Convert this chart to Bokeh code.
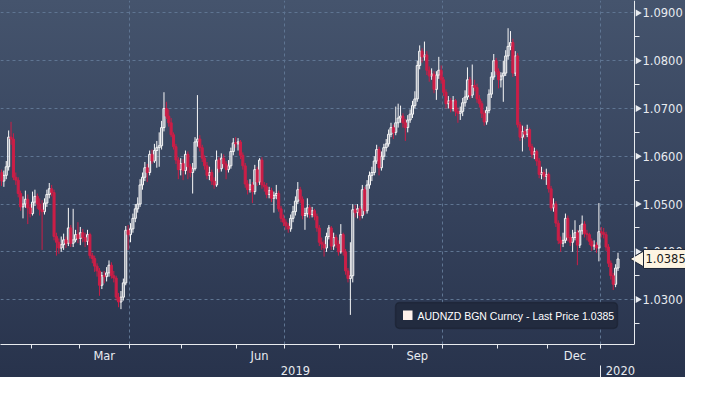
import math
from bokeh.plotting import figure
from bokeh.models import (Range1d, FixedTicker, PrintfTickFormatter, LinearAxis,
                          Label, BoxAnnotation, ColumnDataSource)
from bokeh.embed import file_html
from bokeh.resources import INLINE

# ---------------- data (daily AUDNZD candles) ----------------
open_first = 1.0566
close = [
    1.0548, 1.0560, 1.0578, 1.0640, 1.0636, 1.0556, 1.0550, 1.0522, 1.0494, 1.0500,
    1.0510, 1.0492, 1.0480, 1.0504, 1.0516, 1.0500, 1.0488, 1.0484, 1.0502, 1.0520,
    1.0532, 1.0524, 1.0432, 1.0420, 1.0408, 1.0415, 1.0425, 1.0418, 1.0450, 1.0418,
    1.0425, 1.0436, 1.0428, 1.0440, 1.0430, 1.0422, 1.0436, 1.0392, 1.0386, 1.0370,
    1.0360, 1.0330, 1.0350, 1.0348, 1.0356, 1.0372, 1.0350, 1.0345, 1.0305, 1.0295,
    1.0305, 1.0335, 1.0445, 1.0436, 1.0448, 1.0470, 1.0490, 1.0500, 1.0540, 1.0556,
    1.0576, 1.0566, 1.0604, 1.0590, 1.0612, 1.0618, 1.0622, 1.0660, 1.0700, 1.0684,
    1.0670, 1.0645, 1.0620, 1.0592, 1.0572, 1.0585, 1.0570, 1.0604, 1.0578, 1.0566,
    1.0574, 1.0630, 1.0636, 1.0618, 1.0596, 1.0580, 1.0560, 1.0566, 1.0548, 1.0540,
    1.0592, 1.0574, 1.0596, 1.0584, 1.0572, 1.0580, 1.0610, 1.0628, 1.0626, 1.0630,
    1.0602, 1.0580, 1.0542, 1.0530, 1.0540, 1.0526, 1.0572, 1.0546, 1.0592, 1.0540,
    1.0536, 1.0520, 1.0528, 1.0512, 1.0518, 1.0522, 1.0490, 1.0470, 1.0462, 1.0454,
    1.0448, 1.0470, 1.0484, 1.0506, 1.0530, 1.0510, 1.0476, 1.0480, 1.0492, 1.0478,
    1.0486, 1.0474, 1.0450, 1.0420, 1.0416, 1.0408, 1.0432, 1.0450, 1.0412, 1.0430,
    1.0416, 1.0400, 1.0436, 1.0400, 1.0360, 1.0344, 1.0350, 1.0488, 1.0482, 1.0490,
    1.0476, 1.0530, 1.0486, 1.0540, 1.0560, 1.0566, 1.0590, 1.0614, 1.0576, 1.0600,
    1.0618, 1.0626, 1.0646, 1.0660, 1.0650, 1.0670, 1.0680, 1.0684, 1.0670, 1.0660,
    1.0676, 1.0688, 1.0706, 1.0720, 1.0790, 1.0820, 1.0808, 1.0812, 1.0780, 1.0768,
    1.0772, 1.0740, 1.0770, 1.0780, 1.0760, 1.0734, 1.0710, 1.0716, 1.0700, 1.0716,
    1.0694, 1.0690, 1.0694, 1.0712, 1.0724, 1.0760, 1.0728, 1.0748, 1.0744, 1.0720,
    1.0710, 1.0690, 1.0672, 1.0696, 1.0730, 1.0766, 1.0800, 1.0778, 1.0760, 1.0768,
    1.0774, 1.0810, 1.0830, 1.0838, 1.0774, 1.0810, 1.0666, 1.0640, 1.0652, 1.0646,
    1.0656, 1.0620, 1.0604, 1.0610, 1.0590, 1.0562, 1.0566, 1.0558, 1.0562, 1.0532,
    1.0492, 1.0500, 1.0460, 1.0424, 1.0418, 1.0424, 1.0470, 1.0430, 1.0420, 1.0430,
    1.0440, 1.0414, 1.0444, 1.0458, 1.0438, 1.0436, 1.0422, 1.0412, 1.0414, 1.0408,
    1.0442, 1.0440, 1.0436, 1.0410, 1.0376, 1.0350, 1.0332, 1.0366, 1.0385,
]
high = [
    1.0572, 1.0570, 1.0590, 1.0654, 1.0672, 1.0648, 1.0566, 1.0556, 1.0528, 1.0516,
    1.0528, 1.0520, 1.0500, 1.0526, 1.0530, 1.0522, 1.0512, 1.0508, 1.0512, 1.0530,
    1.0544, 1.0540, 1.0530, 1.0440, 1.0428, 1.0432, 1.0438, 1.0432, 1.0492, 1.0456,
    1.0490, 1.0446, 1.0462, 1.0452, 1.0448, 1.0440, 1.0446, 1.0440, 1.0398, 1.0392,
    1.0376, 1.0366, 1.0358, 1.0360, 1.0368, 1.0382, 1.0378, 1.0360, 1.0350, 1.0314,
    1.0318, 1.0344, 1.0454, 1.0456, 1.0460, 1.0480, 1.0500, 1.0514, 1.0552, 1.0566,
    1.0588, 1.0584, 1.0612, 1.0614, 1.0626, 1.0632, 1.0650, 1.0674, 1.0734, 1.0714,
    1.0698, 1.0680, 1.0650, 1.0626, 1.0598, 1.0596, 1.0594, 1.0612, 1.0610, 1.0584,
    1.0586, 1.0640, 1.0728, 1.0644, 1.0624, 1.0602, 1.0588, 1.0578, 1.0572, 1.0556,
    1.0612, 1.0598, 1.0606, 1.0604, 1.0590, 1.0592, 1.0618, 1.0638, 1.0640, 1.0638,
    1.0634, 1.0608, 1.0586, 1.0550, 1.0552, 1.0546, 1.0582, 1.0578, 1.0596, 1.0598,
    1.0546, 1.0544, 1.0536, 1.0534, 1.0526, 1.0540, 1.0528, 1.0496, 1.0478, 1.0468,
    1.0460, 1.0478, 1.0496, 1.0516, 1.0546, 1.0536, 1.0516, 1.0492, 1.0512, 1.0498,
    1.0494, 1.0490, 1.0480, 1.0456, 1.0430, 1.0424, 1.0440, 1.0456, 1.0454, 1.0440,
    1.0436, 1.0424, 1.0458, 1.0440, 1.0406, 1.0366, 1.0420, 1.0500, 1.0498, 1.0500,
    1.0496, 1.0540, 1.0536, 1.0550, 1.0568, 1.0578, 1.0600, 1.0624, 1.0620, 1.0610,
    1.0626, 1.0636, 1.0656, 1.0670, 1.0666, 1.0704, 1.0710, 1.0706, 1.0690, 1.0678,
    1.0686, 1.0698, 1.0716, 1.0736, 1.0800, 1.0832, 1.0826, 1.0840, 1.0820, 1.0788,
    1.0784, 1.0778, 1.0778, 1.0808, 1.0790, 1.0766, 1.0740, 1.0726, 1.0722, 1.0726,
    1.0720, 1.0702, 1.0704, 1.0722, 1.0738, 1.0786, 1.0766, 1.0792, 1.0760, 1.0752,
    1.0728, 1.0716, 1.0696, 1.0704, 1.0740, 1.0776, 1.0814, 1.0806, 1.0784, 1.0776,
    1.0800, 1.0822, 1.0868, 1.0862, 1.0846, 1.0820, 1.0816, 1.0672, 1.0664, 1.0662,
    1.0666, 1.0660, 1.0626, 1.0618, 1.0614, 1.0596, 1.0578, 1.0572, 1.0574, 1.0566,
    1.0538, 1.0512, 1.0506, 1.0466, 1.0432, 1.0440, 1.0480, 1.0476, 1.0436, 1.0446,
    1.0466, 1.0446, 1.0456, 1.0476, 1.0464, 1.0446, 1.0440, 1.0428, 1.0424, 1.0420,
    1.0502, 1.0452, 1.0450, 1.0442, 1.0416, 1.0382, 1.0356, 1.0374, 1.0398,
]
low = [
    1.0538, 1.0536, 1.0552, 1.0570, 1.0624, 1.0550, 1.0540, 1.0514, 1.0486, 1.0470,
    1.0492, 1.0458, 1.0472, 1.0476, 1.0496, 1.0490, 1.0476, 1.0404, 1.0478, 1.0494,
    1.0512, 1.0516, 1.0424, 1.0392, 1.0396, 1.0400, 1.0404, 1.0408, 1.0412, 1.0410,
    1.0410, 1.0420, 1.0418, 1.0414, 1.0420, 1.0410, 1.0414, 1.0386, 1.0376, 1.0358,
    1.0348, 1.0308, 1.0322, 1.0334, 1.0338, 1.0348, 1.0344, 1.0336, 1.0298, 1.0284,
    1.0280, 1.0298, 1.0330, 1.0404, 1.0420, 1.0440, 1.0462, 1.0482, 1.0494, 1.0530,
    1.0548, 1.0546, 1.0560, 1.0584, 1.0586, 1.0576, 1.0578, 1.0614, 1.0652, 1.0678,
    1.0662, 1.0640, 1.0614, 1.0584, 1.0552, 1.0560, 1.0550, 1.0562, 1.0552, 1.0556,
    1.0522, 1.0570, 1.0620, 1.0610, 1.0588, 1.0572, 1.0552, 1.0550, 1.0540, 1.0532,
    1.0536, 1.0566, 1.0568, 1.0576, 1.0552, 1.0566, 1.0574, 1.0602, 1.0618, 1.0612,
    1.0594, 1.0572, 1.0534, 1.0520, 1.0524, 1.0502, 1.0520, 1.0538, 1.0540, 1.0532,
    1.0526, 1.0512, 1.0512, 1.0504, 1.0482, 1.0510, 1.0484, 1.0462, 1.0454, 1.0446,
    1.0440, 1.0442, 1.0462, 1.0476, 1.0500, 1.0502, 1.0468, 1.0446, 1.0472, 1.0470,
    1.0472, 1.0466, 1.0442, 1.0412, 1.0404, 1.0390, 1.0400, 1.0426, 1.0404, 1.0404,
    1.0408, 1.0392, 1.0396, 1.0392, 1.0352, 1.0336, 1.0268, 1.0336, 1.0472, 1.0470,
    1.0466, 1.0470, 1.0478, 1.0480, 1.0532, 1.0548, 1.0560, 1.0584, 1.0560, 1.0570,
    1.0592, 1.0610, 1.0620, 1.0640, 1.0636, 1.0644, 1.0660, 1.0670, 1.0660, 1.0632,
    1.0650, 1.0670, 1.0680, 1.0700, 1.0714, 1.0782, 1.0796, 1.0800, 1.0770, 1.0756,
    1.0760, 1.0732, 1.0718, 1.0762, 1.0752, 1.0726, 1.0700, 1.0700, 1.0692, 1.0694,
    1.0684, 1.0670, 1.0676, 1.0684, 1.0704, 1.0718, 1.0720, 1.0722, 1.0736, 1.0712,
    1.0702, 1.0680, 1.0664, 1.0666, 1.0690, 1.0722, 1.0760, 1.0770, 1.0742, 1.0744,
    1.0714, 1.0768, 1.0802, 1.0822, 1.0766, 1.0768, 1.0660, 1.0632, 1.0610, 1.0636,
    1.0640, 1.0612, 1.0596, 1.0594, 1.0580, 1.0554, 1.0552, 1.0550, 1.0540, 1.0524,
    1.0486, 1.0484, 1.0452, 1.0416, 1.0400, 1.0410, 1.0418, 1.0422, 1.0412, 1.0400,
    1.0424, 1.0372, 1.0408, 1.0436, 1.0430, 1.0424, 1.0414, 1.0402, 1.0404, 1.0398,
    1.0380, 1.0430, 1.0428, 1.0402, 1.0368, 1.0342, 1.0320, 1.0326, 1.0360,
]

# x axis: trading-day positions of month boundaries and labels
month_bounds = [12.5, 32.5, 53.5, 75.5, 98.5, 118.5, 141.5, 163.5, 184.5, 207.5, 228.5, 250.5]
quarter_bounds = [53.5, 118.5, 184.5, 250.5]
month_label_pos = [43, 108, 174, 240]
month_labels = ["Mar", "Jun", "Sep", "Dec"]
year_label_pos = [123, 259]
year_labels = ["2019", "2020"]
year_sep = [250.5]

price_ticks = [1.03, 1.04, 1.05, 1.06, 1.07, 1.08, 1.09]
price_minor = [1.025, 1.035, 1.045, 1.055, 1.065, 1.075, 1.085, 1.095]
last_price = 1.0385
series_name = "AUDNZD BGN Curncy - Last Price"

# ---------------- build sources ----------------
opens = [open_first] + close[:-1]
up = dict(x=[], top=[], bottom=[], high=[], low=[])
dn = dict(x=[], top=[], bottom=[], high=[], low=[])
for i, (o, c, h, l) in enumerate(zip(opens, close, high, low)):
    d = up if c >= o else dn
    d["x"].append(i)
    d["top"].append(max(o, c))
    d["bottom"].append(min(o, c))
    d["high"].append(h)
    d["low"].append(l)
src_up = ColumnDataSource(up)
src_dn = ColumnDataSource(dn)

# ---------------- layout ----------------
W, H = 685, 377
BB = 33
X0, XAX = -0.41, 264.9            # chart area in trading-day units; XAX = right axis position
AX_PX = 634                       # pixel position of the right axis line
ppu = AX_PX / (XAX - X0)
X1 = X0 + W / ppu                 # frame extends under the price labels

p = figure(width=W, height=H, output_backend="svg", toolbar_location=None,
           x_range=Range1d(X0, X1), y_range=Range1d(1.0206, 1.0926),
           y_axis_location="right",
           min_border_left=0, min_border_top=0, min_border_right=0, min_border_bottom=BB,
           styles={"background": "linear-gradient(180deg, #45546d 0%, #35425c 55%, #28334c 100%)"})
p.background_fill_color = None
p.border_fill_color = None
p.outline_line_color = None

TXT = "#e8ebf0"
AXC = "#e8ebef"
GRID = "#5f7592"
FONT = "DejaVu Sans"

# y axis (right), anchored at the end of the chart area
ya = p.yaxis[0]
ya.fixed_location = XAX
ya.ticker = FixedTicker(ticks=price_ticks, minor_ticks=price_minor)
ya.formatter = PrintfTickFormatter(format="%.4f")
ya.axis_line_color = AXC
ya.major_tick_in = 0
ya.major_tick_out = 7
ya.major_tick_line_color = None
ya.minor_tick_in = 0
ya.minor_tick_out = 5
ya.minor_tick_line_color = AXC
ya.major_label_standoff = 1
ya.major_label_text_font = FONT
ya.major_label_text_font_size = "11.5px"
ya.major_label_text_color = TXT

# x axis: month labels + month boundary ticks
xa = p.xaxis[0]
xa.bounds = (X0, XAX)
xa.ticker = FixedTicker(ticks=month_label_pos, minor_ticks=month_bounds)
xa.major_label_overrides = {k: v for k, v in zip(month_label_pos, month_labels)}
xa.axis_line_color = AXC
xa.major_tick_line_color = None
xa.major_tick_in = 0
xa.major_tick_out = 0
xa.minor_tick_in = 0
xa.minor_tick_out = 4
xa.minor_tick_line_color = AXC
xa.major_label_standoff = 0
xa.major_label_text_font = FONT
xa.major_label_text_font_size = "11.5px"
xa.major_label_text_color = TXT

# year row (separator drawn as a long minor tick)
yr = LinearAxis(ticker=FixedTicker(ticks=year_label_pos, minor_ticks=year_sep))
yr.major_label_overrides = {k: v for k, v in zip(year_label_pos, year_labels)}
yr.axis_line_color = None
yr.major_tick_line_color = None
yr.major_tick_in = 0
yr.major_tick_out = 0
yr.minor_tick_in = 0
yr.minor_tick_out = 15
yr.minor_tick_line_color = AXC
yr.major_label_standoff = -15
yr.major_label_text_font = FONT
yr.major_label_text_font_size = "11.5px"
yr.major_label_text_color = TXT
p.add_layout(yr, "below")

# grids
p.ygrid.grid_line_color = GRID
p.ygrid.grid_line_dash = "3 3"
p.xgrid.ticker = FixedTicker(ticks=quarter_bounds)
p.xgrid.grid_line_color = GRID
p.xgrid.grid_line_dash = "3 3"
try:
    p.ygrid.cross_bounds = (X0, XAX)
except Exception:
    pass

# price tick markers (small right-pointing triangles on the axis)
p.scatter(x=[XAX + 3.2 / ppu] * len(price_ticks), y=price_ticks, marker="triangle",
          angle=-math.pi / 2, size=7, fill_color=AXC, line_color=None)

# candles
RED = "#cc1e47"
WHITE = "#f8f8f8"
p.segment(x0="x", y0="top", x1="x", y1="high", source=src_up, line_color=WHITE, line_width=1)
p.segment(x0="x", y0="bottom", x1="x", y1="low", source=src_up, line_color=WHITE, line_width=1)
p.vbar(x="x", width=0.85, top="top", bottom="bottom", source=src_up,
       fill_color=WHITE, fill_alpha=0.45, line_color=WHITE, line_width=1)
p.segment(x0="x", y0="top", x1="x", y1="high", source=src_dn, line_color=RED, line_width=1)
p.segment(x0="x", y0="bottom", x1="x", y1="low", source=src_dn, line_color=RED, line_width=1)
p.vbar(x="x", width=0.85, top="top", bottom="bottom", source=src_dn,
       fill_color=RED, line_color=RED, line_width=1)

# legend box
p.add_layout(BoxAnnotation(left=395, right=617, bottom=16, top=42,
                           left_units="screen", right_units="screen",
                           bottom_units="screen", top_units="screen",
                           fill_color="#222b3f", fill_alpha=1.0,
                           line_color="#0d1119", line_width=1.5, border_radius=4))
p.add_layout(BoxAnnotation(left=402.5, right=412, bottom=24.5, top=34,
                           left_units="screen", right_units="screen",
                           bottom_units="screen", top_units="screen",
                           fill_color="#fff1ea", fill_alpha=1.0, line_color=None))
p.add_layout(Label(x=417, y=29, x_units="screen", y_units="screen",
                   text=f"{series_name}  {last_price:.4f}", text_baseline="middle",
                   text_font="Liberation Sans", text_font_size="10.5px", text_color="white"))

# last price tag
TAG = "#fdf4e2"
p.scatter(x=[XAX + 6.5 / ppu], y=[last_price], marker="triangle", angle=math.pi / 2,
          size=19, fill_color=TAG, line_color="#1d2536", line_width=1)
tag = Label(x=AX_PX + 9, y=last_price, x_units="screen", y_units="data",
            text=f"{last_price:.4f}", text_baseline="middle", text_align="left",
            text_font=FONT, text_font_size="11.5px", text_color="#1b1b1b",
            background_fill_color=TAG, border_line_color="#1d2536", padding=3)
try:
    tag.padding = dict(left=2, right=1, top=5, bottom=5)
except Exception:
    pass
p.add_layout(tag)

open("out.html", "w").write(file_html(p, INLINE))
